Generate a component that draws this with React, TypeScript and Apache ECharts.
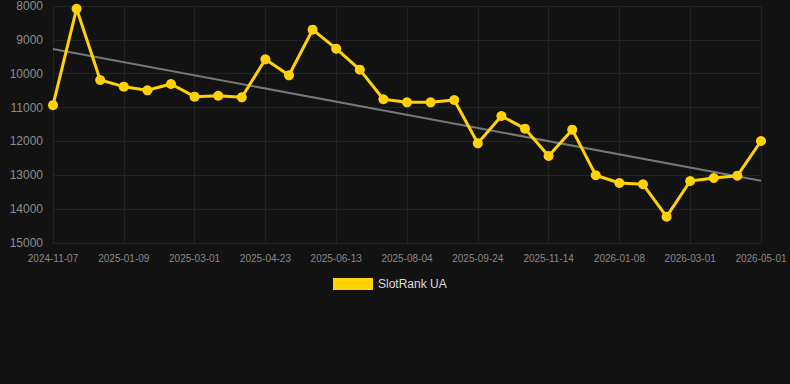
import React, { useEffect, useRef } from "react";
import * as echarts from "echarts";

const categories: string[] = [
  "2024-11-07", "2024-11-28", "2024-12-19", "2025-01-09", "2025-01-26", "2025-02-12",
  "2025-03-01", "2025-03-18", "2025-04-05", "2025-04-23", "2025-05-10", "2025-05-27",
  "2025-06-13", "2025-06-30", "2025-07-18", "2025-08-04", "2025-08-21", "2025-09-07",
  "2025-09-24", "2025-10-11", "2025-10-28", "2025-11-14", "2025-12-02", "2025-12-20",
  "2026-01-08", "2026-01-25", "2026-02-11", "2026-03-01", "2026-03-21", "2026-04-10",
  "2026-05-01",
];

const rankValues: number[] = [
  10930, 8080, 10185, 10383, 10490, 10303, 10677, 10650, 10697, 9575, 10047, 8700,
  9261, 9881, 10755, 10845, 10845, 10776, 12056, 11249, 11623, 12430, 11653, 13000,
  13227, 13266, 14222, 13168, 13080, 13011, 11987,
];

const trendValues: number[] = [9270, 13160];

const seriesName = "SlotRank UA";

export default function App() {
  const ref = useRef<HTMLDivElement>(null);
  useEffect(() => {
    if (!ref.current) return;
    const chart = echarts.init(ref.current, null, { renderer: "svg" });
    chart.setOption({
      animation: false,
      backgroundColor: "#121212",
      textStyle: { fontFamily: "Liberation Sans, Arial, sans-serif" },
      grid: { left: 53, right: 29, top: 6, bottom: 141, containLabel: false },
      legend: {
        data: [seriesName],
        top: 273,
        left: 328,
        icon: "rect",
        itemWidth: 40,
        itemHeight: 12,
        textStyle: { color: "#dddddd", fontSize: 12 },
      },
      xAxis: {
        type: "category",
        data: categories,
        boundaryGap: false,
        axisLine: { lineStyle: { color: "#262626" } },
        axisTick: { show: false },
        axisLabel: { color: "#888888", fontSize: 10, interval: 2, margin: 10 },
        splitLine: { show: true, interval: 2, lineStyle: { color: "#222222" } },
      },
      yAxis: {
        type: "value",
        inverse: true,
        min: 8000,
        max: 15000,
        interval: 1000,
        axisLine: { show: false },
        axisTick: { show: false },
        axisLabel: {
          color: "#8c8c8c",
          fontSize: 12,
          margin: 10,
          formatter: (v: number) => String(v),
        },
        splitLine: { lineStyle: { color: "#222222" } },
      },
      series: [
        {
          name: seriesName,
          type: "line",
          data: rankValues,
          symbol: "circle",
          symbolSize: 10,
          lineStyle: { color: "#FFD200", width: 3 },
          itemStyle: { color: "#FFD200" },
          z: 3,
        },
        {
          name: "trend",
          type: "line",
          data: [
            [categories[0], trendValues[0]],
            [categories[categories.length - 1], trendValues[1]],
          ],
          symbol: "none",
          lineStyle: { color: "#777777", width: 2 },
          z: 2,
        },
      ],
    });
    return () => chart.dispose();
  }, []);
  return (
    <div
      ref={ref}
      style={{ position: "fixed", left: 0, top: 0, width: 790, height: 384 }}
    />
  );
}
